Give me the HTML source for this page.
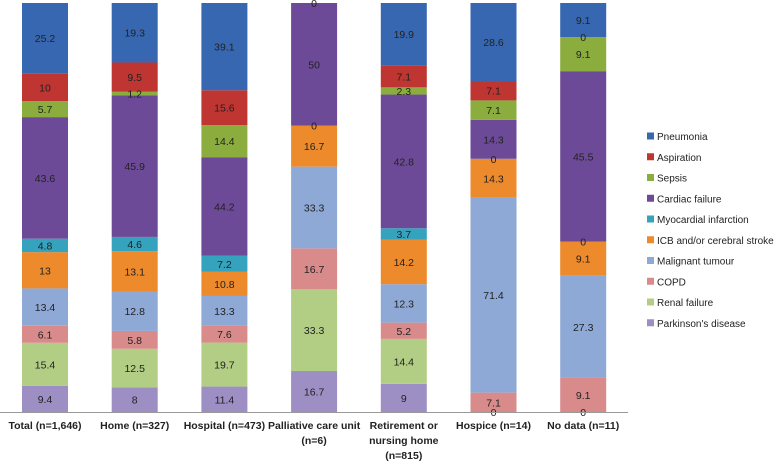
<!DOCTYPE html>
<html><head><meta charset="utf-8"><style>
body{margin:0;background:#fff;}
svg{display:block;font-family:"Liberation Sans",Arial,sans-serif;}
</style></head><body>
<svg id="chart" width="778" height="461"></svg>
<script>
const categories=[["Total (n=1,646)"],["Home (n=327)"],["Hospital (n=473)"],["Palliative care unit","(n=6)"],["Retirement or","nursing home","(n=815)"],["Hospice (n=14)"],["No data (n=11)"]];
const seriesNames=["Parkinson's disease","Renal failure","COPD","Malignant tumour","ICB and/or cerebral stroke","Myocardial infarction","Cardiac failure","Sepsis","Aspiration","Pneumonia"];
const parkinson=[9.4,8,11.4,16.7,9,0,0];
const renal=[15.4,12.5,19.7,33.3,14.4,0,0];
const copd=[6.1,5.8,7.6,16.7,5.2,7.1,9.1];
const malignant=[13.4,12.8,13.3,33.3,12.3,71.4,27.3];
const icb=[13,13.1,10.8,16.7,14.2,14.3,9.1];
const mi=[4.8,4.6,7.2,0,3.7,0,0];
const cardiac=[43.6,45.9,44.2,50,42.8,14.3,45.5];
const sepsis=[5.7,1.2,14.4,0,2.3,7.1,9.1];
const aspiration=[10,9.5,15.6,0,7.1,7.1,0];
const pneumonia=[25.2,19.3,39.1,0,19.9,28.6,9.1];
const series=[parkinson,renal,copd,malignant,icb,mi,cardiac,sepsis,aspiration,pneumonia];
const colors=["#9d8fc4","#b2cd84","#d98b8b","#8ea9d6","#ec8a2c","#35a3bd","#6d4a98","#8bad3e","#be3532","#3767b0"];
const labelShown=[[1,1,1,1,1,1,1,1,1,1],[1,1,1,1,1,1,1,1,1,1],[1,1,1,1,1,1,1,1,1,1],[1,1,1,1,1,1,1,0,0,1],[1,1,1,1,1,1,1,1,1,1],[1,0,1,1,1,1,1,1,1,1],[1,0,1,1,1,1,1,1,1,1]];
const NS="http://www.w3.org/2000/svg";
const svg=document.getElementById('chart');
const top0=3,bottom=412,x0=22,step=89.7,bw=46;
const xAt=i=>x0+i*step;
function el(t,a){const e=document.createElementNS(NS,t);for(const k in a)e.setAttribute(k,a[k]);svg.appendChild(e);return e;}
categories.forEach((cat,i)=>{
  let tot=0;series.forEach(s=>tot+=s[i]);
  const yOf=v=>bottom-(v/tot)*(bottom-top0);
  let cum=0;
  series.forEach((s,j)=>{
    const y1=yOf(cum),y2=yOf(cum+s[i]);
    const r=el('rect',{x:xAt(i),y:y2,width:bw,height:Math.max(0,y1-y2),fill:colors[j]});
    
    
    cum+=s[i];
  });
  cum=0;
  series.forEach((s,j)=>{
    const y1=yOf(cum),y2=yOf(cum+s[i]);
    cum+=s[i];
    if(!labelShown[i][j])return;
    const t=el('text',{x:xAt(i)+bw/2,y:(y1+y2)/2+4,'text-anchor':'middle','font-size':'10.5',fill:'#222'});
    t.textContent=String(s[i]);
    
    
  });
  cat.forEach((ln,k)=>{
    const t=el('text',{x:xAt(i)+bw/2,y:429+k*15,'text-anchor':'middle','font-size':'10.5','font-weight':'bold',fill:'#222'});
    t.textContent=ln;
    
    
  });
});
const ax=el('line',{x1:0,y1:bottom+0.5,x2:628,y2:bottom+0.5,stroke:'#999','stroke-width':1});


for(let j=9;j>=0;j--){
  const k=9-j,y=136+k*20.75;
  const g=document.createElementNS(NS,'g');svg.appendChild(g);
  
  
  const r=document.createElementNS(NS,'rect');
  r.setAttribute('x',647);r.setAttribute('y',y-3.5);r.setAttribute('width',7);r.setAttribute('height',7);r.setAttribute('fill',colors[j]);g.appendChild(r);
  const t=document.createElementNS(NS,'text');
  t.setAttribute('x',657);t.setAttribute('y',y+4);t.setAttribute('font-size','10');t.setAttribute('fill','#222');
  t.textContent=seriesNames[j];g.appendChild(t);
}
</script>
</body></html>
